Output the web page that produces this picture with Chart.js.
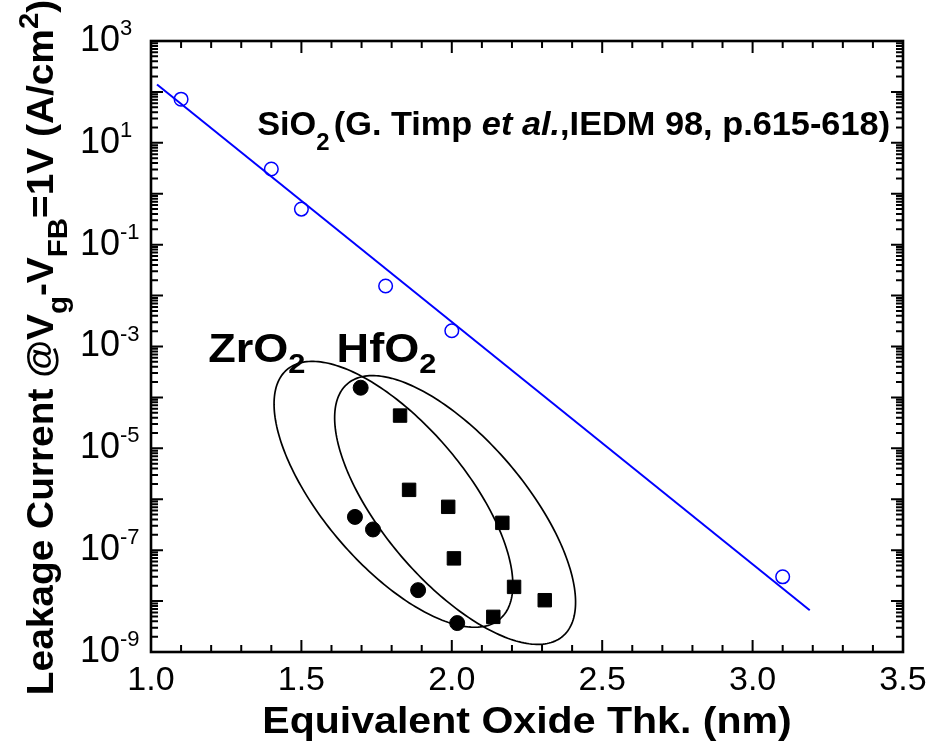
<!DOCTYPE html>
<html>
<head>
<meta charset="utf-8">
<script src="https://cdn.jsdelivr.net/npm/chart.js@4.4.0/dist/chart.umd.min.js"></script>
<style>
  html, body { margin: 0; padding: 0; background: #fff; }
  canvas { display: block; }
</style>
</head>
<body>
<canvas id="leakChart" width="938" height="747"></canvas>
<script>
// SiO2 reference data (open circles) and its fit line
const sio2Thk = [1.1, 1.4, 1.5, 1.78, 2.0, 3.1]
const sio2Leak = [72, 3.06, 0.50, 0.0154, 0.00204, 3.0e-8]
const sio2FitThk = [1.02, 3.19]
const sio2FitLeak = [140, 6.6e-9]

// ZrO2 (filled circles)
const zro2Thk = [1.697, 1.678, 1.738, 1.888, 2.018]
const zro2Leak = [1.55e-4, 4.5e-7, 2.55e-7, 1.64e-8, 3.7e-9]

// HfO2 (filled squares)
const hfo2Thk = [1.828, 1.858, 1.988, 2.168, 2.007, 2.207, 2.309, 2.138]
const hfo2Leak = [4.4e-5, 1.53e-6, 7.1e-7, 3.44e-7, 6.9e-8, 1.9e-8, 1.04e-8, 4.9e-9]

// envelopes: centre (nm, A/cm2), half axes as (nm, decades)
const zro2Envelope = { center: [1.806, 1.25e-6], major: [0.354, -2.449], minor: [-0.1795, -0.905] }
const hfo2Envelope = { center: [2.011, 6.15e-7], major: [0.358, -2.479], minor: [-0.1795, -0.905] }

const xRange = [1.0, 3.5]
const yRange = [1e-9, 1e3]
const yLabelExps = [3, 1, -1, -3, -5, -7, -9]

const FONT = "'Liberation Sans', Arial, Helvetica, sans-serif"

const pts = (xs, ys) => xs.map((x, i) => ({ x, y: ys[i] }))

const isHalf = v => Math.abs(v * 2 - Math.round(v * 2)) < 1e-6

// draws pieces of text one after another: [text, font, dy, gapBefore]
const drawRich = (ctx, parts, x, y, sx, align) => {
    ctx.save()
    ctx.translate(x, y)
    ctx.scale(sx, 1)
    let total = 0
    parts.forEach(([t, f, dy, gap]) => { ctx.font = f; total += ctx.measureText(t).width + (gap || 0) })
    let cx = align === 'center' ? -total / 2 : 0
    ctx.textBaseline = 'alphabetic'
    ctx.textAlign = 'left'
    parts.forEach(([t, f, dy, gap]) => {
        ctx.font = f
        cx += gap || 0
        ctx.fillText(t, cx, dy || 0)
        cx += ctx.measureText(t).width
    })
    ctx.restore()
}

const drawEnvelope = (ctx, xs, ys, env) => {
    const cy = Math.log10(env.center[1])
    ctx.beginPath()
    for (let i = 0; i <= 240; i++) {
        const t = i / 240 * Math.PI * 2
        const c = Math.cos(t), s = Math.sin(t)
        const x = env.center[0] + env.major[0] * c + env.minor[0] * s
        const ly = cy + env.major[1] * c + env.minor[1] * s
        const px = xs.getPixelForValue(x)
        const py = ys.getPixelForValue(Math.pow(10, ly))
        if (i === 0) ctx.moveTo(px, py)
        else ctx.lineTo(px, py)
    }
    ctx.closePath()
    ctx.stroke()
}

const envelopePlugin = {
    id: 'envelopes',
    beforeDatasetsDraw(chart) {
        const { ctx, scales: { x, y } } = chart
        ctx.save()
        ctx.strokeStyle = '#000'
        ctx.lineWidth = 1.7
        drawEnvelope(ctx, x, y, zro2Envelope)
        drawEnvelope(ctx, x, y, hfo2Envelope)
        ctx.restore()
    }
}

const framePlugin = {
    id: 'frame',
    afterDraw(chart) {
        const { ctx, chartArea: a, scales: { x, y } } = chart
        ctx.save()
        ctx.strokeStyle = '#000'
        ctx.fillStyle = '#000'

        // x ticks, top and bottom, pointing in
        ctx.lineWidth = 2
        ctx.beginPath()
        x.ticks.forEach(t => {
            const px = x.getPixelForValue(t.value)
            const len = isHalf(t.value) ? 12 : 7
            ctx.moveTo(px, a.bottom); ctx.lineTo(px, a.bottom - len)
            ctx.moveTo(px, a.top); ctx.lineTo(px, a.top + len)
        })
        // y ticks, left and right
        const e0 = Math.round(Math.log10(yRange[0])), e1 = Math.round(Math.log10(yRange[1]))
        for (let e = e0; e <= e1; e++) {
            for (let m = 1; m <= 9; m++) {
                const v = m * Math.pow(10, e)
                if (v > yRange[1] * 1.0001) break
                const py = y.getPixelForValue(v)
                const len = m === 1 ? 12 : 7
                ctx.moveTo(a.left, py); ctx.lineTo(a.left + len, py)
                ctx.moveTo(a.right, py); ctx.lineTo(a.right - len, py)
            }
        }
        ctx.stroke()

        // box
        ctx.lineWidth = 2.6
        ctx.strokeRect(a.left, a.top, a.right - a.left, a.bottom - a.top)

        // y tick labels 10^n
        yLabelExps.forEach(e => {
            const py = y.getPixelForValue(Math.pow(10, e))
            ctx.textBaseline = 'middle'
            ctx.textAlign = 'left'
            ctx.font = `36px ${FONT}`
            ctx.fillText('10', 80, py)
            const w = ctx.measureText('10').width
            ctx.font = `22px ${FONT}`
            ctx.fillText(e < 0 ? '-' + Math.abs(e) : String(e), 80 + w, py - 12)
        })

        // axis titles
        const B = sz => `bold ${sz}px ${FONT}`
        const IB = sz => `italic bold ${sz}px ${FONT}`
        drawRich(ctx, [['Equivalent Oxide Thk. (nm)', B(37)]], (a.left + a.right) / 2, 733, 1.11, 'center')

        ctx.save()
        ctx.translate(53, (a.top + a.bottom) / 2 + 1)
        ctx.rotate(-Math.PI / 2)
        drawRich(ctx, [
            ['Leakage Current @V', B(37)],
            ['g', B(28), 14],
            ['-V', B(37)],
            ['FB', B(28), 14],
            ['=1V (A/cm', B(37)],
            ['2', B(28), -15],
            [')', B(37)]
        ], 0, 0, 1.05, 'center')
        ctx.restore()

        // annotations anchored in data space
        const sx = x.getPixelForValue(1.353), sy = y.getPixelForValue(14.5)
        drawRich(ctx, [
            ['SiO', B(33)],
            ['2', B(23), 15],
            ['(G. Timp ', B(33), 0, 4],
            ['et al.', IB(33)],
            [',IEDM 98, p.615-618)', B(33)]
        ], sx, sy, 1.04, 'left')

        const zy = y.getPixelForValue(Math.pow(10, -3.30))
        drawRich(ctx, [['ZrO', B(41)], ['2', B(28), 11]], x.getPixelForValue(1.19), zy, 1.1, 'left')
        drawRich(ctx, [['HfO', B(41)], ['2', B(28), 11]], x.getPixelForValue(1.617), zy, 1.1, 'left')

        ctx.restore()
    }
}

new Chart('leakChart', {
    type: 'scatter',
    data: {
        datasets: [
            {
                label: 'SiO2 fit',
                type: 'line',
                data: pts(sio2FitThk, sio2FitLeak),
                borderColor: '#0000ff',
                borderWidth: 2,
                pointRadius: 0,
                fill: false,
                tension: 0
            },
            {
                label: 'SiO2',
                data: pts(sio2Thk, sio2Leak),
                pointStyle: 'circle',
                pointRadius: 6.8,
                borderWidth: 1.5,
                borderColor: '#0000ff',
                backgroundColor: 'rgba(0,0,0,0)'
            },
            {
                label: 'ZrO2',
                data: pts(zro2Thk, zro2Leak),
                pointStyle: 'circle',
                pointRadius: 7.5,
                borderWidth: 1,
                borderColor: '#000',
                backgroundColor: '#000'
            },
            {
                label: 'HfO2',
                data: pts(hfo2Thk, hfo2Leak),
                pointStyle: 'rect',
                pointRadius: 9.5,
                borderWidth: 1,
                borderColor: '#000',
                backgroundColor: '#000'
            }
        ]
    },
    options: {
        responsive: false,
        animation: false,
        layout: { padding: { top: 41, right: 35, left: 0, bottom: 0 } },
        plugins: {
            legend: { display: false },
            tooltip: { enabled: false }
        },
        scales: {
            x: {
                type: 'linear',
                min: xRange[0],
                max: xRange[1],
                grid: { display: false, drawTicks: false },
                border: { display: false },
                ticks: {
                    stepSize: 0.1,
                    autoSkip: false,
                    maxRotation: 0,
                    padding: 8,
                    color: '#000',
                    font: { family: FONT, size: 34 },
                    callback: v => isHalf(v) ? v.toFixed(1) : ''
                },
                afterFit: s => { s.height = 95 }
            },
            y: {
                type: 'logarithmic',
                min: yRange[0],
                max: yRange[1],
                grid: { display: false, drawTicks: false },
                border: { display: false },
                ticks: { display: false },
                afterFit: s => { s.width = 151 }
            }
        }
    },
    plugins: [envelopePlugin, framePlugin]
})
</script>
</body>
</html>
